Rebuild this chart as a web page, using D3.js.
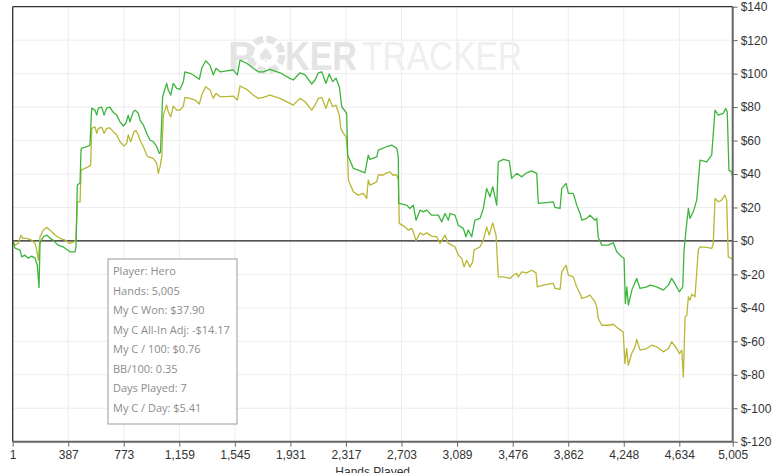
<!DOCTYPE html>
<html><head><meta charset="utf-8">
<script src="https://cdn.jsdelivr.net/npm/d3@7"></script>
<style>
html,body{margin:0;padding:0;background:#fff;overflow:hidden}
svg{display:block}
</style></head><body>
<svg id="c" width="781" height="473"></svg>
<script>
// ---- data ----
const xTicks = [1,387,773,1159,1545,1931,2317,2703,3089,3476,3862,4248,4634,5005];
const yTicks = [140,120,100,80,60,40,20,0,-20,-40,-60,-80,-100,-120];
const wonHands = [1,17,52,64,86,109,133,156,172,184,191,214,237,260,281,316,351,399,434,441,450,469,476,481,515,538,550,573,585,596,620,636,654,677,698,724,747,770,788,804,816,839,851,874,886,909,932,955,978,1002,1020,1028,1043,1071,1082,1099,1117,1141,1164,1187,1198,1233,1256,1298,1315,1342,1372,1395,1414,1442,1488,1534,1562,1581,1627,1673,1708,1743,1789,1859,1928,1951,1998,2033,2079,2102,2125,2149,2178,2201,2225,2248,2271,2288,2322,2329,2368,2403,2449,2472,2484,2531,2542,2600,2635,2670,2681,2684,2739,2762,2785,2804,2832,2855,2878,2913,2959,2983,3006,3029,3041,3075,3098,3133,3151,3167,3191,3214,3249,3272,3295,3318,3337,3365,3376,3411,3452,3469,3504,3539,3573,3608,3643,3654,3689,3758,3770,3805,3817,3847,3863,3897,3921,3944,3956,3990,4013,4048,4060,4071,4095,4141,4175,4199,4234,4250,4259,4269,4280,4304,4327,4338,4361,4408,4431,4477,4523,4558,4581,4616,4634,4658,4667,4681,4697,4708,4731,4755,4778,4824,4859,4882,4905,4940,4956,4967,4979,4997,5005];
const wonValues = [0,-4.3,-5.5,-9.5,-8.5,-10.3,-9.1,-10.3,-14.5,-27.8,-1.3,2.5,3.5,1.7,0.5,-2.5,-3.5,-6.5,-6.5,-3.5,33.4,34.6,54.3,55.5,56.3,57.3,79.4,78.2,75.2,79.4,80.0,75.2,79.4,80.0,77.0,75.2,71.2,68.7,70.5,75.2,71.2,77.2,78.2,76.3,72.2,69.3,64.3,60.3,59.3,56.3,52.3,53.1,86.2,94.2,90.2,87.2,94.2,91.2,90.6,95.2,101.1,100.2,99.2,96.6,103.2,107.7,105.1,99.2,103.2,101.1,101.7,102.2,99.2,108.1,106.2,103.2,101.1,101.1,102.6,100.5,97.2,96.2,100.5,99.2,93.8,96.2,100.5,101.1,94.2,99.8,95.2,97.2,92.2,80.2,76.3,51.3,43.4,42.3,40.7,51.3,48.7,50.3,54.3,56.3,57.3,55.3,50.3,22.4,21.4,19.4,21.4,12.4,18.4,17.4,18.4,15.4,15.4,11.4,16.4,12.4,16.4,15.4,9.4,7.5,2.5,6.5,2.5,12.4,13.5,19.4,31.4,26.4,32.4,21.4,47.3,48.7,47.9,37.4,40.4,38.3,40.7,41.9,40.4,22.4,22.8,23.4,20.0,19.4,31.4,34.4,28.4,28.4,21.4,16.4,12.4,13.5,15.4,12.4,13.5,2.1,-2.5,-2.5,-1.1,-6.5,-9.5,-10.5,-37.4,-27.5,-38.4,-29.4,-24.5,-22.4,-28.4,-27.5,-26.4,-27.5,-29.4,-26.4,-22.4,-27.5,-30.4,-27.5,-5.5,6.9,19.4,13.5,17.4,24.4,48.3,47.3,51.3,78.2,75.2,76.3,79.2,77.2,42.3,41.3,37.9];
const adjHands = [1,17,40,57,71,98,133,156,168,179,191,214,237,260,295,330,365,399,427,441,450,469,476,503,526,543,550,573,585,596,620,636,654,677,700,724,747,775,793,804,821,844,858,874,886,909,932,943,978,1002,1013,1025,1037,1048,1071,1082,1099,1117,1141,1164,1187,1198,1233,1268,1298,1315,1342,1372,1395,1414,1442,1488,1534,1562,1581,1627,1673,1708,1743,1789,1859,1928,1951,1998,2033,2079,2102,2125,2149,2178,2201,2225,2248,2271,2281,2299,2318,2327,2334,2368,2403,2438,2461,2472,2484,2531,2542,2577,2600,2623,2642,2670,2681,2688,2727,2750,2774,2785,2804,2832,2855,2878,2913,2948,2971,3006,3029,3052,3075,3098,3122,3138,3156,3179,3198,3207,3249,3272,3295,3313,3337,3360,3376,3411,3457,3480,3504,3515,3539,3573,3608,3638,3647,3689,3758,3770,3805,3817,3847,3863,3897,3921,3944,3956,3990,4013,4048,4060,4071,4095,4141,4175,4210,4244,4256,4268,4279,4303,4326,4338,4361,4408,4442,4477,4523,4558,4581,4616,4634,4651,4662,4674,4686,4697,4708,4720,4743,4766,4778,4824,4859,4870,4882,4905,4928,4951,4963,4974,4997,5005];
const adjValues = [0,-2.5,-1.5,3.5,1.5,1.5,0.5,-1.5,-5.5,-11.5,2.5,6.5,8.1,6.5,3.5,1.5,0.5,-1.5,-0.5,0.5,23.4,23.4,42.3,43.4,44.3,45.3,67.3,68.2,64.3,67.3,67.9,64.3,67.3,67.6,65.3,63.3,59.3,56.7,58.3,63.3,59.3,65.3,65.9,63.3,60.3,56.3,51.3,50.3,49.3,46.4,40.4,44.3,50.3,75.2,81.2,77.2,74.2,80.6,78.2,78.2,80.6,85.8,85.2,84.2,81.8,87.2,92.2,90.2,85.2,88.2,86.2,86.2,86.6,84.2,92.6,90.6,87.2,85.2,85.8,87.2,85.2,82.2,81.2,85.2,83.2,78.2,81.2,85.2,85.8,79.2,85.2,80.2,81.2,75.2,67.3,64.3,62.3,54.3,36.4,29.4,27.4,28.4,25.4,36.4,33.4,35.3,39.4,39.4,40.7,41.3,39.4,39.4,36.4,10.5,8.4,6.5,7.5,5.4,0.1,4.8,3.5,4.8,2.9,2.5,-1.5,3.5,-1.5,-2.5,-3.5,-8.5,-10.5,-15.5,-11.5,-15.5,-12.5,-5.5,-3.5,0.5,8.4,3.5,10.8,3.5,-21.5,-21.5,-22.4,-20.5,-19.4,-21.5,-18.5,-19.1,-17.5,-19.1,-27.5,-26.4,-25.4,-28.4,-29.0,-18.5,-14.5,-20.5,-21.5,-27.5,-31.4,-34.4,-33.4,-32.4,-36.4,-39.4,-46.4,-50.4,-50.4,-49.8,-52.3,-54.4,-73.3,-64.3,-74.3,-67.3,-63.3,-58.9,-65.3,-64.3,-62.3,-63.3,-66.3,-64.3,-60.3,-64.3,-67.3,-65.3,-81.3,-45.4,-44.4,-33.4,-35.4,-31.8,-33.4,-5.5,-3.5,-3.9,-4.5,-1.5,25.4,23.4,24.4,27.4,24.4,-9.5,-10.5,-11.0];
const infoLines = ["Player: Hero","Hands: 5,005","My C Won: $37.90","My C All-In Adj: -$14.17","My C / 100: $0.76","BB/100: 0.35","Days Played: 7","My C / Day: $5.41"];
const xTitle = "Hands Played";

// ---- layout ----
const svg = d3.select("#c");
const L = 12.7, R = 732.7, T = 6.7, B = 441.7;
const x = d3.scaleLinear().domain([1,5005]).range([L,R]);
const y = d3.scaleLinear().domain([-120,140]).range([B,T]);
const font = "'Liberation Sans', Arial, sans-serif";

// grid
const g = svg.append("g");
g.selectAll(".vg").data(xTicks).enter().append("line")
  .attr("x1",d=>x(d)).attr("x2",d=>x(d)).attr("y1",T).attr("y2",B)
  .attr("stroke","#ededed").attr("stroke-width",1);
g.selectAll(".hg").data(yTicks).enter().append("line")
  .attr("x1",L).attr("x2",R).attr("y1",d=>y(d)).attr("y2",d=>y(d))
  .attr("stroke","#ededed").attr("stroke-width",1);

// watermark
const wm = svg.append("g");
wm.append("text").attr("x",228).attr("y",70).attr("font-family",font).attr("font-weight","bold")
  .attr("font-size",40).attr("fill","#e4e4e4").text("P");
const chip = wm.append("g").attr("transform","translate(266,55)");
chip.append("circle").attr("r",16).attr("fill","none").attr("stroke","#e4e4e4").attr("stroke-width",7)
  .attr("stroke-dasharray","9 3.6");
chip.append("circle").attr("r",11).attr("fill","#fff");
chip.append("text").attr("text-anchor","middle").attr("y",7).attr("font-family","'DejaVu Sans',sans-serif")
  .attr("font-size",20).attr("fill","#e4e4e4").text("♠");
wm.append("text").attr("x",285).attr("y",70).attr("font-family",font).attr("font-weight","bold")
  .attr("font-size",40).attr("fill","#e4e4e4").attr("textLength",72).attr("lengthAdjust","spacingAndGlyphs").text("KER");
wm.append("text").attr("x",362).attr("y",70).attr("font-family",font)
  .attr("font-size",40).attr("fill","#efefef").attr("textLength",160).attr("lengthAdjust","spacingAndGlyphs").text("TRACKER");

// zero line
svg.append("line").attr("x1",L).attr("x2",R).attr("y1",y(0)).attr("y2",y(0))
  .attr("stroke","#222").attr("stroke-width",1.2);

// series
const mk = (hs,vs)=>hs.map((h,i)=>[h,vs[i]]);
const line = d3.line().x(d=>x(d[0])).y(d=>y(d[1]));
svg.append("path").datum(mk(adjHands,adjValues)).attr("d",line)
  .attr("fill","none").attr("stroke","#b9b735").attr("stroke-width",1.3).attr("stroke-linejoin","round");
svg.append("path").datum(mk(wonHands,wonValues)).attr("d",line)
  .attr("fill","none").attr("stroke","#3db53d").attr("stroke-width",1.3).attr("stroke-linejoin","round");

// frame (top, left)
svg.append("line").attr("x1",L).attr("x2",R).attr("y1",T).attr("y2",T).attr("stroke","#333").attr("stroke-width",1.3);
svg.append("line").attr("x1",L).attr("x2",L).attr("y1",T).attr("y2",B).attr("stroke","#333").attr("stroke-width",1.3);

// axes
const yAxis = d3.axisRight(y).tickValues(yTicks).tickSize(5).tickPadding(3)
  .tickFormat(d=>"$"+d);
const ya = svg.append("g").attr("transform",`translate(${R},0)`).call(yAxis);
const xAxis = d3.axisBottom(x).tickValues(xTicks).tickSize(5).tickPadding(4)
  .tickFormat(d3.format(","));
const xa = svg.append("g").attr("transform",`translate(0,${B})`).call(xAxis);
[ya,xa].forEach(a=>{
  a.select(".domain").attr("stroke","#666").attr("stroke-width",2);
  a.selectAll(".tick line").attr("stroke","#666");
  a.selectAll("text").attr("font-family",font).attr("font-size",12).attr("fill","#333");
});
ya.select(".domain").attr("d",`M0,${T}V${B}`);
xa.select(".domain").attr("d",`M${L},0H${R}`);

svg.append("text").attr("x",(L+R)/2).attr("y",476).attr("text-anchor","middle")
  .attr("font-family",font).attr("font-size",12).attr("fill","#333").text(xTitle);

// info box
const ib = svg.append("g");
ib.append("rect").attr("x",108).attr("y",259).attr("width",129).attr("height",165)
  .attr("fill","rgba(255,255,255,0.85)").attr("stroke","#9a9a9a").attr("stroke-width",1);
ib.selectAll("text").data(infoLines).enter().append("text")
  .attr("x",113).attr("y",(d,i)=>275+i*19.5)
  .attr("font-family","'Open Sans','Noto Sans',sans-serif").attr("font-size",11).attr("fill","#8c8c8c")
  .text(d=>d);
</script>
</body></html>
